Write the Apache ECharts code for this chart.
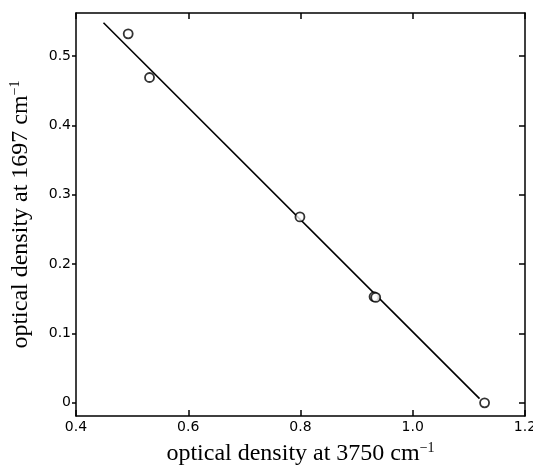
<!DOCTYPE html>
<html>
<head>
<meta charset="utf-8">
<script src="https://cdn.jsdelivr.net/npm/echarts@6/dist/echarts.min.js"></script>
<style>
  html, body { margin: 0; padding: 0; background: #fff; }
  #chart { width: 533px; height: 467px; }
</style>
</head>
<body>
<div id="chart"></div>
<script>
// measured points (optical density at 3750 vs 1697 cm-1)
const od3750 = [0.493, 0.531, 0.799, 0.931, 0.934, 1.128];
const od1697 = [0.532, 0.469, 0.268, 0.153, 0.152, 0.000];
// fitted straight line, end points
const fitX = [0.449, 1.119];
const fitY = [0.548, 0.006];
const yTicks = [0, 0.1, 0.2, 0.3, 0.4, 0.5];

const points = od3750.map((x, i) => [x, od1697[i]]);
const fitLine = fitX.map((x, i) => [x, fitY[i]]);

const labelFont = {
  fontFamily: 'DejaVu Sans',
  fontSize: 14,
  color: '#000',
};
const titleFont = {
  fontFamily: 'Liberation Serif',
  fontSize: 24,
  color: '#000',
  rich: {
    sup: {fontFamily: 'Liberation Serif', fontSize: 14, color: '#000', padding: [0, 0, 12, 0]},
  },
};
const axisLine = {show: true, onZero: false, lineStyle: {color: '#000', width: 1.5}};
const tickStyle = {color: '#000', width: 1.5};

const option = {
  animation: false,
  backgroundColor: '#fff',
  grid: {left: 76, right: 8, top: 13, bottom: 51, outerBoundsMode: 'none'},
  xAxis: [
    {
      type: 'value',
      position: 'bottom',
      min: 0.4,
      max: 1.2,
      interval: 0.2,
      name: 'optical density at 3750 cm{sup|−1}',
      nameLocation: 'middle',
      nameGap: 25,
      nameTextStyle: titleFont,
      axisLine: axisLine,
      axisTick: {show: true, inside: true, length: 6, lineStyle: tickStyle},
      axisLabel: Object.assign({margin: 4, formatter: (v) => v.toFixed(1)}, labelFont),
      splitLine: {show: false},
    },
    {
      type: 'value',
      position: 'top',
      min: 0.4,
      max: 1.2,
      interval: 0.2,
      axisLine: axisLine,
      axisTick: {show: true, inside: true, length: 6, lineStyle: tickStyle},
      axisLabel: {show: false},
      splitLine: {show: false},
    },
  ],
  yAxis: [
    {
      type: 'value',
      position: 'left',
      min: -0.019,
      max: 0.562,
      name: 'optical density at 1697 cm{sup|−1}',
      nameLocation: 'middle',
      nameGap: 42,
      nameTextStyle: titleFont,
      axisLine: axisLine,
      axisTick: {show: true, inside: false, length: 4, customValues: yTicks, lineStyle: tickStyle},
      axisLabel: Object.assign({margin: 5, customValues: yTicks,
        formatter: (v) => (v === 0 ? '0' : v.toFixed(1))}, labelFont),
      splitLine: {show: false},
    },
    {
      type: 'value',
      position: 'right',
      min: -0.019,
      max: 0.562,
      axisLine: axisLine,
      axisTick: {show: true, inside: true, length: 6, customValues: yTicks, lineStyle: tickStyle},
      axisLabel: {show: false},
      splitLine: {show: false},
    },
  ],
  series: [
    {
      type: 'line',
      data: fitLine,
      showSymbol: false,
      lineStyle: {color: '#000', width: 1.6},
      z: 2,
    },
    {
      type: 'scatter',
      data: points,
      symbol: 'circle',
      symbolSize: 9,
      itemStyle: {color: '#fff', borderColor: '#000', borderWidth: 1.8},
      z: 3,
    },
  ],
};

const chart = echarts.init(document.getElementById('chart'), null, {renderer: 'canvas', devicePixelRatio: 1});
chart.setOption(option);
</script>
</body>
</html>
